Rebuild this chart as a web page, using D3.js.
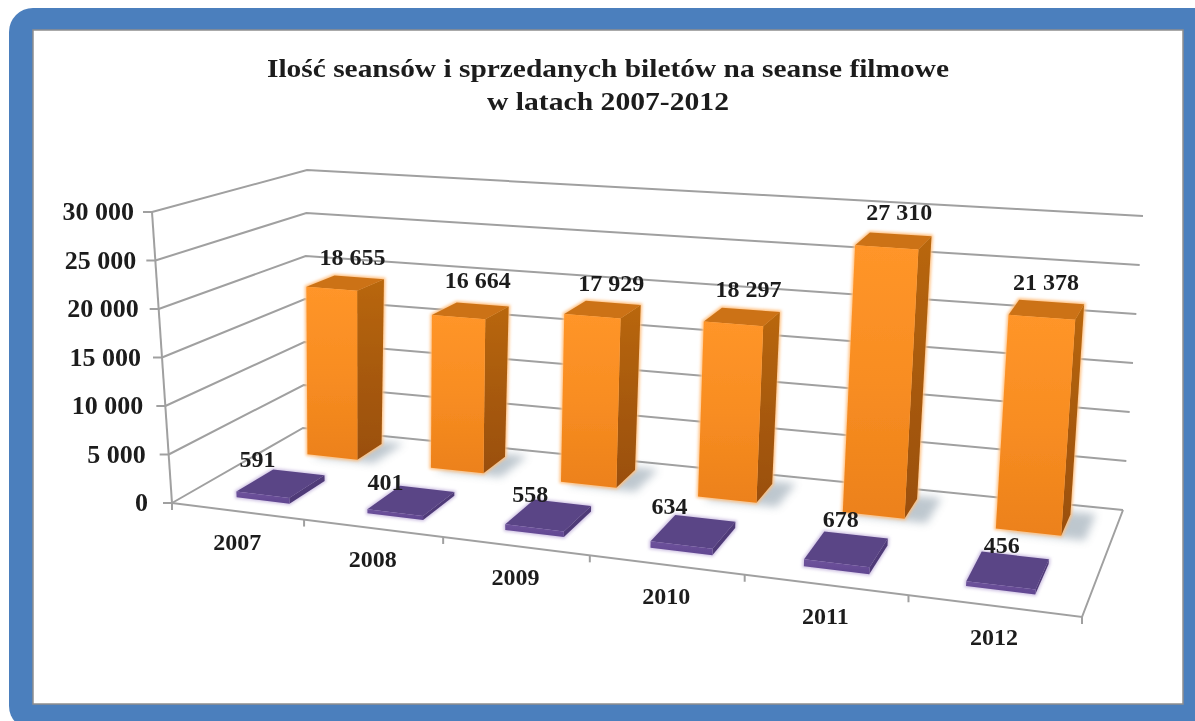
<!DOCTYPE html>
<html>
<head>
<meta charset="utf-8">
<script src="https://cdn.jsdelivr.net/npm/d3@7"></script>
<style>
  html, body { margin: 0; padding: 0; background: #fff; overflow: hidden; }
  text { font-family: "Liberation Serif", serif; font-weight: bold; fill: #1c1c1c; }
</style>
</head>
<body>
<script>
var w = 1195;
var h = 721;

// chart data
var years = ['2007', '2008', '2009', '2010', '2011', '2012'];
var tickets = [18655, 16664, 17929, 18297, 27310, 21378];
var sessions = [591, 401, 558, 634, 678, 456];
var valueTicks = [0, 5000, 10000, 15000, 20000, 25000, 30000];
var titleLines = ['Ilość seansów i sprzedanych biletów na seanse filmowe', 'w latach 2007-2012'];

// the box in screen pixels: [bottom, top] for each floor corner
var frontLeft = [[172, 503], [152, 212]];
var frontRight = [[1082, 617], [1106, 285]];
var backLeft = [[303, 428], [307, 170]];
var backRight = [[1123, 510], [1143, 216]];

var perspective = 1.178;

var valueScale = d3.scaleLinear().domain([0, 30000]).range([0, 1]);
var yearScale = d3.scaleBand().domain(years).range([0.01, 0.998]).paddingInner(0.59).paddingOuter(0.295);
var yearEdge = d3.scaleLinear().domain([0, years.length]).range([0, 1]);

// label nudges, the labels do not sit evenly over their bars
var ticketNudgeX = [-8, -6, -3, -3, -2, -6];
var ticketNudgeY = [2, -2, 3, 2, 0, 3];
var sessionNudgeX = [-35, -35, -25, -28, -7, -5];
var sessionNudgeY = [5, 12, 10, 6, 3, 9];

// places [across, depth, value] on screen, across and depth in 0..1
function project(u, d, v) {
   var t = valueScale(v);
   var up = u / (u + perspective * (1 - u));
   function corner(c) {
      return [c[0][0] + (c[1][0] - c[0][0]) * t, c[0][1] + (c[1][1] - c[0][1]) * t];
   }
   var fl = corner(frontLeft), fr = corner(frontRight), bl = corner(backLeft), br = corner(backRight);
   var front = [fl[0] + (fr[0] - fl[0]) * up, fl[1] + (fr[1] - fl[1]) * up];
   var back = [bl[0] + (br[0] - bl[0]) * up, bl[1] + (br[1] - bl[1]) * up];
   return [front[0] + (back[0] - front[0]) * d, front[1] + (back[1] - front[1]) * d];
}
function poly(points) {
   return points.map(function(p) { return p.join(','); }).join(' ');
}

var format = d3.formatLocale({ decimal: ',', thousands: ' ', grouping: [3], currency: ['', ''] }).format(',');

var svg = d3.select('body')
   .append('svg')
   .attr('width', w)
   .attr('height', h)
   .style('display', 'block');

var defs = svg.append('defs');
function gradient(id, stops) {
   var g = defs.append('linearGradient').attr('id', id).attr('x1', 0).attr('y1', 0).attr('x2', 0).attr('y2', 1);
   stops.forEach(function(s, i) {
      g.append('stop').attr('offset', i / (stops.length - 1)).attr('stop-color', s);
   });
}
gradient('orangeFront', ['#ff9529', '#f88d22', '#ec811a']);
gradient('orangeSide', ['#b9670f', '#a85a0e', '#9a4f0a']);
gradient('purpleFront', ['#6e539c', '#604690']);
function blur(id, s) {
   defs.append('filter').attr('id', id)
      .attr('x', '-30%').attr('y', '-30%').attr('width', '160%').attr('height', '160%')
      .append('feGaussianBlur').attr('stdDeviation', s);
}
blur('soft', 0.7);
blur('shadow', 4);
blur('glow', 1.6);

var root = svg.append('g').attr('filter', 'url(#soft)');

// blue frame
root.append('rect').attr('x', 9).attr('y', 8).attr('width', 1215).attr('height', 722).attr('rx', 24).attr('fill', '#4c7fbd');
root.append('rect').attr('x', 33).attr('y', 30).attr('width', 1150).attr('height', 674)
   .attr('fill', '#fff').attr('stroke', '#8e8e8e').attr('stroke-width', 1.5);

// title
root.selectAll('.title')
   .data(titleLines)
   .enter()
   .append('text')
   .attr('class', 'title')
   .attr('x', 608)
   .attr('y', function(d, i) { return 77 + i * 33; })
   .attr('text-anchor', 'middle')
   .attr('font-size', 25)
   .attr('textLength', function(d, i) { return i === 0 ? 682 : 242; })
   .attr('lengthAdjust', 'spacingAndGlyphs')
   .text(function(d) { return d; });

// walls
var grid = root.append('g').attr('fill', 'none').attr('stroke', '#a0a0a0').attr('stroke-width', 2);
grid.selectAll('.wall')
   .data(valueTicks)
   .enter()
   .append('polyline')
   .attr('class', 'wall')
   .attr('points', function(v) {
      return poly([project(0, 0, v), project(0, 1, v), project(1, 1, v)]);
   });
// floor edges
grid.append('polyline').attr('points', poly([project(1, 1, 0), project(1, 0, 0), project(0, 0, 0)]));

// value axis, ticks moved on to the slanted front edge
var yPixels = d3.scaleLinear().domain([0, 30000]).range([frontLeft[0][1], frontLeft[1][1]]);
var yAxis = root.append('g')
   .call(d3.axisLeft(yPixels).tickValues(valueTicks).tickFormat(format).tickSize(9).tickPadding(9));
yAxis.select('.domain').remove();
yAxis.selectAll('.tick')
   .attr('transform', function(v) { return 'translate(' + project(0, 0, v)[0] + ',' + yPixels(v) + ')'; });
yAxis.selectAll('.tick line').attr('stroke', '#a0a0a0').attr('stroke-width', 2);
yAxis.selectAll('.tick text')
   .attr('font-size', 26)
   .attr('x', function(v) { return -18 - 6 * (1 - valueScale(v)); });
grid.append('line')
   .attr('x1', frontLeft[0][0]).attr('y1', frontLeft[0][1])
   .attr('x2', frontLeft[1][0]).attr('y2', frontLeft[1][1]);

// year ticks and labels
grid.selectAll('.yearTick')
   .data(d3.range(years.length + 1))
   .enter()
   .append('line')
   .attr('class', 'yearTick')
   .attr('x1', function(i) { return project(yearEdge(i), 0, 0)[0]; })
   .attr('y1', function(i) { return project(yearEdge(i), 0, 0)[1]; })
   .attr('x2', function(i) { return project(yearEdge(i), 0, 0)[0]; })
   .attr('y2', function(i) { return project(yearEdge(i), 0, 0)[1] + 7; });
root.selectAll('.year')
   .data(years)
   .enter()
   .append('text')
   .attr('class', 'year')
   .attr('x', function(d) { return project((yearEdge(years.indexOf(d)) + yearEdge(years.indexOf(d) + 1)) / 2, 0, 0)[0]; })
   .attr('y', function(d) { return project((yearEdge(years.indexOf(d)) + yearEdge(years.indexOf(d) + 1)) / 2, 0, 0)[1] + 39; })
   .attr('text-anchor', 'middle')
   .attr('font-size', 24)
   .text(function(d) { return d; });

// bars, one series at a time, back one first
function drawBars(values, d0, d1, name, side, top, glow) {
   var data = values.map(function(v, i) {
      var u0 = yearScale(years[i]);
      return { v: v, u0: u0, u1: u0 + yearScale.bandwidth() };
   });
   var g = root.selectAll('.' + name).data(data).enter().append('g').attr('class', name);
   if (name === 'tickets') {
      g.append('polygon')
         .attr('points', function(b) {
            return poly([project(b.u0 + 0.01, d0 - 0.02, 0), project(b.u1 + 0.025, d0 - 0.02, 0),
               project(b.u1 + 0.025, d1 + 0.03, 0), project(b.u0 + 0.01, d1 + 0.03, 0)]);
         })
         .attr('fill', '#6f8494').attr('opacity', 0.45).attr('filter', 'url(#shadow)');
   }
   // soft coloured edge round the whole bar
   g.append('polygon')
      .attr('points', function(b) {
         return poly([project(b.u0, d0, 0), project(b.u1, d0, 0), project(b.u1, d1, 0), project(b.u1, d1, b.v),
            project(b.u0, d1, b.v), project(b.u0, d0, b.v)]);
      })
      .attr('fill', glow).attr('stroke', glow).attr('stroke-width', 3).attr('filter', 'url(#glow)');
   g.append('polygon')
      .attr('points', function(b) {
         return poly([project(b.u0, d0, b.v), project(b.u1, d0, b.v), project(b.u1, d1, b.v), project(b.u0, d1, b.v)]);
      })
      .attr('fill', top);
   g.append('polygon')
      .attr('points', function(b) {
         return poly([project(b.u1, d0, 0), project(b.u1, d1, 0), project(b.u1, d1, b.v), project(b.u1, d0, b.v)]);
      })
      .attr('fill', side);
   g.append('polygon')
      .attr('points', function(b) {
         return poly([project(b.u0, d0, 0), project(b.u1, d0, 0), project(b.u1, d0, b.v), project(b.u0, d0, b.v)]);
      })
      .attr('fill', 'url(#' + (name === 'tickets' ? 'orangeFront' : 'purpleFront') + ')');
}
drawBars(tickets, 0.71, 0.91, 'tickets', 'url(#orangeSide)', '#cc7216', '#ffc080');
drawBars(sessions, 0.15, 0.44, 'sessions', '#4f3a78', '#5a4486', '#d0c4e4');

// value labels
function drawLabels(values, d0, name, dx, dy, nudgeX, nudgeY) {
   root.selectAll('.' + name)
      .data(values)
      .enter()
      .append('text')
      .attr('class', name)
      .attr('x', function(v, i) { return project(yearScale(years[i]) + yearScale.bandwidth() / 2, d0, v)[0] + dx + nudgeX[i]; })
      .attr('y', function(v, i) { return project(yearScale(years[i]) + yearScale.bandwidth() / 2, d0, v)[1] + dy + nudgeY[i]; })
      .attr('text-anchor', 'middle')
      .attr('font-size', 24)
      .text(function(v) { return format(v); });
}
drawLabels(tickets, 0.92, 'ticketLabel', 0, -14, ticketNudgeX, ticketNudgeY);
drawLabels(sessions, 0.47, 'sessionLabel', -10, -8, sessionNudgeX, sessionNudgeY);
</script>
</body>
</html>
